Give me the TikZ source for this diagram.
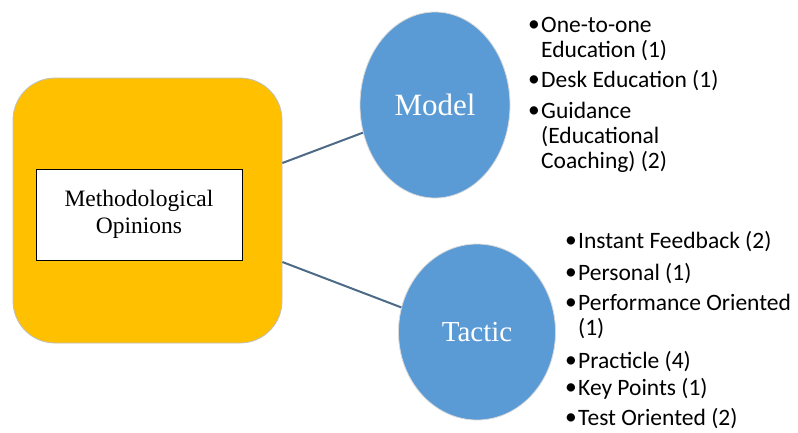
\documentclass[tikz,border=0pt]{standalone}
\usepackage{fontspec}
\setmainfont{Liberation Serif}
\newfontfamily\listfont{Carlito}
\usetikzlibrary{shapes.geometric}
\definecolor{gold}{HTML}{FFC000}
\definecolor{bluefill}{HTML}{5B9BD5}
\definecolor{linkcol}{HTML}{4D6A86}
\tikzset{
  mainbox/.style={draw=black!25, line width=0.8pt, fill=gold, rounded corners=42pt,
    minimum width=269pt, minimum height=265pt, inner sep=0pt},
  labelbox/.style={draw=black, line width=1pt, fill=white, minimum width=206pt,
    minimum height=91pt, inner sep=0pt, align=center,
    font=\fontsize{23.5}{27}\selectfont},
  bubble/.style={ellipse, draw=black!15, line width=0.8pt, fill=bluefill,
    inner sep=0pt, text=white},
  link/.style={draw=linkcol, line width=2pt},
  listline/.style={anchor=base west, inner sep=0pt,
    font=\listfont\fontsize{23.5}{25}\selectfont},
}
\newcommand{\bul}{\llap{\raisebox{0.5pt}{•}\hspace{1.5pt}}}
\begin{document}
\begin{tikzpicture}[x=1pt,y=-1pt]
\useasboundingbox (0,0) rectangle (798,432);
\node[mainbox] (yb) at (147.5,210.5) {};
\node[labelbox] (lb) at (139,214.5) {Methodological\\Opinions};
\node[bubble, minimum width=150pt, minimum height=186pt,
  font=\fontsize{31}{31}\selectfont] (model) at (435,105) {Model};
\node[bubble, minimum width=157pt, minimum height=176pt,
  font=\fontsize{29}{29}\selectfont] (tactic) at (477,332) {Tactic};
\draw[link] ([yshift=47.5pt]yb.east) -- (model.201);
\draw[link] ([yshift=-51.5pt]yb.east) -- (tactic.162);
% Model list
\node[listline] (m1a) at (541,32) {\bul One-to-one};
\node[listline] (m1b) at (541,57) {Education (1)};
\node[listline] (m2) at (541,87) {\bul Desk Education (1)};
\node[listline] (m3a) at (541,118) {\bul Guidance};
\node[listline] (m3b) at (541,143) {(Educational};
\node[listline] (m3c) at (541,168) {Coaching) (2)};
% Tactic list
\node[listline] (t1) at (578,248) {\bul Instant Feedback (2)};
\node[listline] (t2) at (578,280) {\bul Personal (1)};
\node[listline] (t3a) at (578,310) {\bul Performance Oriented};
\node[listline] (t3b) at (578,335) {(1)};
\node[listline] (t4) at (578,368) {\bul Practicle (4)};
\node[listline] (t5) at (578,395) {\bul Key Points (1)};
\node[listline] (t6) at (578,425) {\bul Test Oriented (2)};
\end{tikzpicture}
\end{document}
